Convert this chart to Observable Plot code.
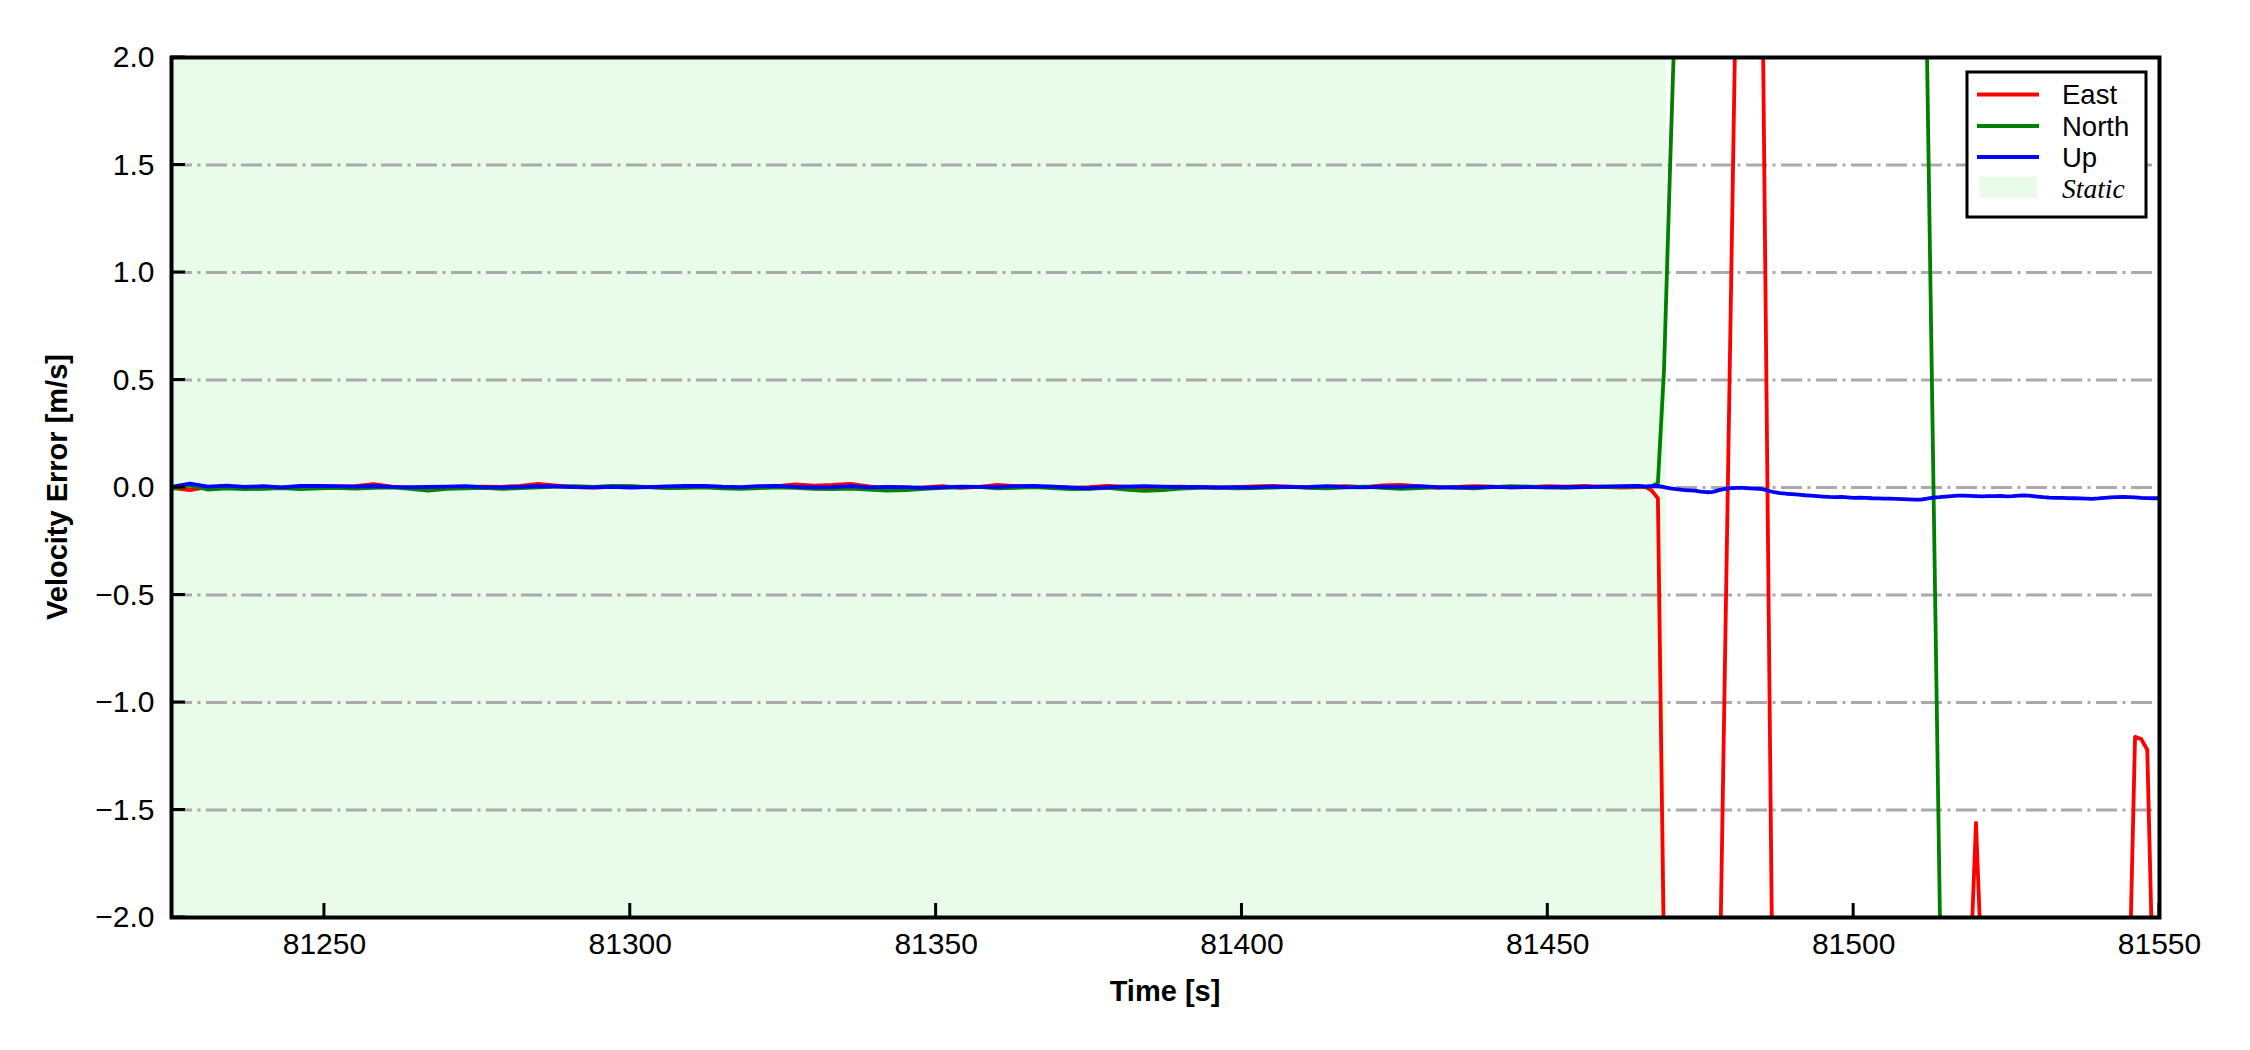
<!DOCTYPE html>
<html>
<head>
<meta charset="utf-8">
<script src="https://cdn.jsdelivr.net/npm/d3@7"></script>
<script src="https://cdn.jsdelivr.net/npm/@observablehq/plot@0.6"></script>
<style>
  html, body { margin: 0; padding: 0; background: #ffffff; }
  #chart { position: relative; width: 2250px; height: 1050px; }
</style>
</head>
<body>
<div id="chart"></div>
<script>
// ---------------- data ----------------
const xDomain = [81225, 81550];
const yDomain = [-2, 2];
const xTicks = [81250, 81300, 81350, 81400, 81450, 81500, 81550];
const yTicks = [-2.0, -1.5, -1.0, -0.5, 0.0, 0.5, 1.0, 1.5, 2.0];
const yGrid = [-1.5, -1.0, -0.5, 0.0, 0.5, 1.0, 1.5];
const staticSpan = [81225, 81469.4];   // static period (s)

// sampling grid: 3 s during the static period, 1 s afterwards
const tStatic = d3.range(81225, 81466, 3);   // 81 samples
const tMotion = d3.range(81466, 81551, 1);   // 85 samples

const eastStatic = [
  -0.002, -0.012, 0.003, 0.001, -0.004, 0.002, 0.000, -0.003, 0.002, 0.004,
  0.006, 0.016, 0.004, -0.002, -0.005, -0.001, 0.002, 0.004, 0.003, 0.008,
  0.017, 0.009, 0.002, -0.001, 0.003, 0.005, 0.002, -0.002, 0.001, 0.004,
  0.003, -0.002, 0.002, 0.006, 0.014, 0.009, 0.012, 0.017, 0.005, -0.003,
  -0.004, 0.001, 0.006, -0.002, 0.003, 0.012, 0.006, 0.002, 0.004, -0.002,
  0.002, 0.008, 0.004, -0.001, 0.003, 0.004, 0.001, -0.002, 0.002, 0.005,
  0.008, 0.004, 0.000, 0.003, 0.006, 0.002, 0.010, 0.012, 0.005, -0.002,
  0.003, 0.006, 0.004, 0.001, 0.002, 0.006, 0.004, 0.008, 0.003, 0.000,
  0.002
];
const northStatic = [
  -0.006, 0.010, -0.010, -0.004, -0.008, -0.006, -0.003, -0.007, -0.004, -0.002,
  -0.005, -0.002, 0.001, -0.006, -0.015, -0.006, -0.004, -0.002, -0.006, -0.003,
  0.001, 0.004, 0.006, 0.003, 0.008, 0.006, 0.002, -0.003, -0.002, 0.001,
  -0.004, -0.006, -0.003, 0.001, -0.002, -0.006, -0.008, -0.005, -0.010, -0.014,
  -0.012, -0.006, -0.002, 0.001, 0.003, -0.004, -0.002, 0.002, -0.003, -0.008,
  -0.006, -0.002, -0.010, -0.016, -0.012, -0.005, -0.002, 0.001, -0.004, -0.003,
  0.000, 0.003, -0.002, -0.004, 0.001, 0.004, -0.002, -0.006, -0.003, 0.002,
  0.000, -0.004, 0.002, 0.006, 0.004, 0.001, -0.002, 0.002, 0.004, 0.003,
  0.004
];
const upStatic = [
  0.003, 0.018, 0.004, 0.009, 0.003, 0.006, 0.001, 0.007, 0.008, 0.006,
  0.004, 0.007, 0.003, 0.002, 0.003, 0.004, 0.006, 0.002, 0.001, 0.003,
  0.006, 0.005, 0.002, 0.001, 0.003, 0.000, 0.002, 0.005, 0.007, 0.008,
  0.004, 0.002, 0.006, 0.008, 0.003, 0.001, 0.002, 0.006, 0.001, 0.003,
  0.002, -0.002, 0.001, 0.004, 0.003, 0.002, 0.006, 0.008, 0.004, 0.000,
  -0.004, 0.001, 0.004, 0.006, 0.004, 0.002, 0.003, 0.000, 0.002, 0.001,
  0.004, 0.002, 0.003, 0.006, 0.002, 0.001, 0.004, 0.003, 0.006, 0.002,
  0.000, 0.001, 0.003, 0.001, 0.002, 0.001, 0.003, 0.002, 0.004, 0.006,
  0.008
];

const eastMotion = [
  0.002, -0.015, -0.05, -2.2, -3.6,
  -4.5, -5.2, -5.6, -5.4, -4.9, -4.2, -3.4,
  -2.5, -0.75, 1.0, 2.75,
  3.6, 3.9, 3.5,
  2.6, -0.26, -3.1,
  -4.0, -4.6, -5.0, -5.3, -5.5, -5.4, -5.1, -4.8, -4.5, -4.2, -3.9,
  -3.7, -3.6, -3.4, -3.3, -3.3, -3.1, -3.0, -3.0, -2.9, -2.9,
  -2.8, -2.8, -2.7, -2.7, -2.6, -2.6, -2.5, -2.5, -2.5, -2.4,
  -2.3, -1.56, -2.3,
  -2.8, -3.2, -3.5, -3.7, -3.9, -4.0, -4.1, -4.1, -4.0, -3.9,
  -3.8, -3.7, -3.6, -3.4, -3.3, -3.1, -3.0, -2.9, -2.8, -2.7,
  -2.6, -2.6, -2.5,
  -2.4, -1.16, -1.17, -1.22, -2.4, -3.0
];
const northMotion = [
  0.004, 0.006, 0.02, 0.55, 1.5, 2.4,
  3.3, 4.1, 4.8, 5.3, 5.7, 6.0, 6.2, 6.3, 6.3, 6.2,
  6.1, 6.0, 5.9, 5.8, 5.8, 5.7, 5.7, 5.6, 5.6, 5.5,
  5.5, 5.4, 5.4, 5.3, 5.3, 5.2, 5.2, 5.1, 5.1, 5.0,
  5.0, 4.9, 4.9, 4.8, 4.8, 4.7, 4.6, 4.5, 4.3,
  3.9, 2.0, 0.1, -1.8, -3.7,
  -5.2, -6.3, -7.0, -7.4, -7.6, -7.7, -7.7, -7.6, -7.5, -7.4,
  -7.3, -7.2, -7.1, -7.0, -6.9, -6.8, -6.8, -6.7, -6.6, -6.5,
  -6.5, -6.4, -6.3, -6.3, -6.2, -6.1, -6.1, -6.0, -6.0, -5.9,
  -5.9, -5.8, -5.8, -5.7, -5.7
];
const upMotion = [
  0.004, 0.006, 0.008, 0.002, -0.004, -0.008, -0.011, -0.013, -0.015, -0.019,
  -0.022, -0.020, -0.012, -0.006, -0.003, -0.002, -0.002, -0.004, -0.005, -0.007,
  -0.015, -0.022, -0.026, -0.029, -0.031, -0.033, -0.036, -0.038, -0.040, -0.042,
  -0.044, -0.045, -0.044, -0.046, -0.048, -0.047, -0.048, -0.050, -0.051, -0.052,
  -0.052, -0.053, -0.054, -0.055, -0.056, -0.056, -0.052, -0.047, -0.045, -0.042,
  -0.040, -0.038, -0.038, -0.039, -0.040, -0.041, -0.040, -0.040, -0.039, -0.041,
  -0.040, -0.038, -0.037, -0.039, -0.042, -0.045, -0.047, -0.048, -0.048, -0.049,
  -0.050, -0.051, -0.052, -0.053, -0.051, -0.048, -0.046, -0.045, -0.044, -0.045,
  -0.046, -0.048, -0.049, -0.050, -0.050
];

const seriesNames = ["East", "North", "Up"];
const seriesColors = ["#ff0000", "#008000", "#0000ff"];
const staticLabel = "Static";
const staticColor = "#e9fce9";

// ---------------- build table ----------------
const times = tStatic.concat(tMotion);
const seriesValues = [
  eastStatic.concat(eastMotion),
  northStatic.concat(northMotion),
  upStatic.concat(upMotion)
];
const rows = seriesNames.map((name, k) =>
  times.map((t, i) => ({t, v: seriesValues[k][i], name}))
);

// ---------------- plot ----------------
const W = 2250, H = 1050;
const mL = 171, mR = 91, mT = 57, mB = 133;

const chart = Plot.plot({
  width: W,
  height: H,
  marginLeft: mL,
  marginRight: mR,
  marginTop: mT,
  marginBottom: mB,
  style: {
    fontFamily: "'Liberation Sans', Arial, sans-serif",
    fontSize: "30px",
    background: "#ffffff",
    color: "#000000",
    overflow: "visible"
  },
  x: {
    domain: xDomain,
    ticks: xTicks,
    tickSize: 0,
    tickPadding: 15,
    tickFormat: d => String(d),
    label: null
  },
  y: {
    domain: yDomain,
    ticks: yTicks,
    tickSize: 0,
    tickPadding: 17,
    tickFormat: d3.format(".1f"),
    label: null
  },
  marks: [
    Plot.rect([staticSpan], {
      x1: d => d[0], x2: d => d[1],
      y1: () => yDomain[0], y2: () => yDomain[1],
      fill: staticColor
    }),
    Plot.ruleY(yGrid, {
      stroke: "#aaaaaa",
      strokeWidth: 2.8,
      strokeDasharray: "21,5.5,3,5.5"
    }),
    ...rows.map((r, k) => Plot.line(r, {
      x: "t", y: "v",
      stroke: seriesColors[k],
      strokeWidth: 3.8,
      strokeLinejoin: "round",
      clip: true
    })),
    Plot.frame({stroke: "#000000", strokeWidth: 4})
  ]
});

document.getElementById("chart").appendChild(chart);

// ---------------- ticks, labels, legend ----------------
const sx = chart.scale("x");
const sy = chart.scale("y");
const svg = d3.select(chart);
const x0 = sx.apply(xDomain[0]);
const y0 = sy.apply(yDomain[0]);
const tickLen = 14;

const tg = svg.append("g").attr("stroke", "#000").attr("stroke-width", 3);
xTicks.forEach(t => {
  const px = sx.apply(t);
  tg.append("line").attr("x1", px).attr("x2", px)
    .attr("y1", y0).attr("y2", y0 - tickLen);
});
yTicks.forEach(v => {
  const py = sy.apply(v);
  tg.append("line").attr("x1", x0).attr("x2", x0 + tickLen)
    .attr("y1", py).attr("y2", py);
});

// axis labels
svg.append("text")
  .attr("transform", `translate(57,${(mT + H - mB) / 2}) rotate(-90)`)
  .attr("text-anchor", "middle")
  .attr("dominant-baseline", "central")
  .attr("font-weight", "bold")
  .attr("font-size", 29)
  .attr("font-family", "'Liberation Sans', Arial, sans-serif")
  .attr("fill", "#000")
  .text("Velocity Error [m/s]");

svg.append("text")
  .attr("x", (mL + W - mR) / 2)
  .attr("y", 991)
  .attr("text-anchor", "middle")
  .attr("dominant-baseline", "central")
  .attr("font-weight", "bold")
  .attr("font-size", 29)
  .attr("font-family", "'Liberation Sans', Arial, sans-serif")
  .attr("fill", "#000")
  .text("Time [s]");

// legend
const lg = svg.append("g").attr("transform", "translate(1967,72)")
  .attr("text-anchor", "start");
lg.append("rect").attr("x", 0).attr("y", 0).attr("width", 179).attr("height", 145)
  .attr("fill", "#fff").attr("stroke", "#000").attr("stroke-width", 3);
const rowY = [22.5, 54, 85, 116];
seriesNames.forEach((name, k) => {
  lg.append("line").attr("x1", 10).attr("x2", 72)
    .attr("y1", rowY[k]).attr("y2", rowY[k])
    .attr("stroke", seriesColors[k]).attr("stroke-width", 3.8);
  lg.append("text").attr("x", 95).attr("y", rowY[k])
    .attr("text-anchor", "start")
    .attr("dominant-baseline", "central")
    .attr("font-size", 27.5)
    .attr("font-family", "'Liberation Sans', Arial, sans-serif")
    .attr("fill", "#000")
    .text(name);
});
lg.append("rect").attr("x", 12).attr("y", rowY[3] - 11).attr("width", 58).attr("height", 21)
  .attr("fill", staticColor);
lg.append("text").attr("x", 95).attr("y", rowY[3])
  .attr("text-anchor", "start")
  .attr("dominant-baseline", "central")
  .attr("font-size", 27.5)
  .attr("font-style", "italic")
  .attr("font-family", "'Liberation Serif', 'Times New Roman', serif")
  .attr("fill", "#000")
  .text(staticLabel);
</script>
</body>
</html>
